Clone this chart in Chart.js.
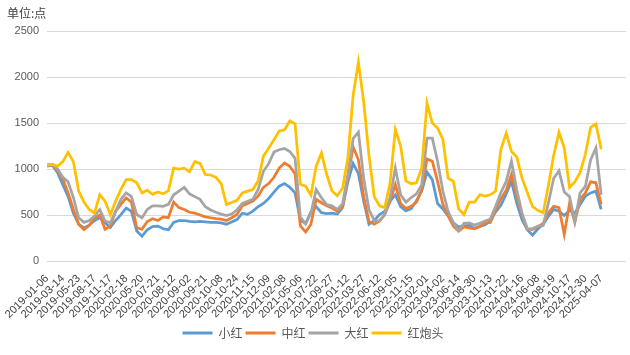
<!DOCTYPE html>
<html><head><meta charset="utf-8">
<script src="https://cdn.jsdelivr.net/npm/chart.js@4/dist/chart.umd.min.js"></script>
<style>html,body{margin:0;padding:0;background:#fff}#wrap{width:630px;height:355px;position:relative}</style>
</head><body><div id="wrap"><canvas id="c" width="630" height="355"></canvas></div>
<script>
const unitTitle = '单位:点';
const seriesNames = ['小红', '中红', '大红', '红炮头'];
const tickLabels = ['2019-01-06','2019-03-14','2019-05-23','2019-08-17','2019-11-17','2020-02-18','2020-05-20','2020-07-21','2020-08-12','2020-09-02','2020-09-21','2020-10-08','2020-10-24','2020-11-15','2020-12-09','2021-02-08','2021-05-06','2021-07-22','2021-09-27','2022-01-12','2022-03-27','2022-06-12','2022-09-05','2022-11-15','2023-02-01','2023-04-02','2023-06-14','2023-08-30','2023-11-13','2024-01-22','2024-04-16','2024-06-08','2024-08-19','2024-10-17','2024-12-30','2025-04-07'];
const pointsPerTick = 3;
const axisEnd = 109.7;
const xiaohong = [1030,1040,960,830,700,520,400,360,390,440,470,415,365,440,505,575,540,325,270,340,375,380,350,340,420,440,440,430,425,430,425,420,420,415,400,425,450,520,507,543,590,626,680,748,813,842,802,740,443,407,536,590,525,514,520,510,580,860,1060,950,650,400,440,505,540,650,720,590,545,570,655,760,965,885,625,565,490,415,370,380,390,355,375,395,435,535,605,730,865,630,450,340,280,350,395,485,560,540,495,550,520,615,705,740,760,560];
const zhonghong = [1045,1050,980,890,740,560,400,340,385,470,500,345,380,540,615,685,640,360,345,430,460,440,480,470,640,580,560,530,520,500,480,470,460,455,440,470,505,600,626,650,705,800,842,910,1011,1065,1029,947,380,316,399,670,633,600,575,540,590,910,1240,1100,700,430,400,435,505,650,830,625,570,595,640,775,1110,1085,865,615,490,380,325,370,360,350,375,415,420,560,675,770,940,705,500,345,345,370,410,525,595,580,290,625,420,670,740,860,850,615];
const dahong = [1040,1050,1000,910,860,690,470,420,440,490,560,435,415,540,670,740,700,505,470,560,600,600,595,615,720,760,800,730,700,670,590,555,530,510,495,510,555,626,650,670,777,975,1058,1184,1209,1223,1190,1117,478,404,518,777,687,612,600,560,620,940,1330,1400,900,560,440,435,505,690,1010,720,640,690,730,830,1335,1335,1085,760,540,415,330,410,415,390,410,435,455,595,745,865,1085,775,520,350,350,380,385,630,900,980,750,700,430,740,810,1100,1230,720];
const hongpaotou = [1040,1050,1030,1080,1180,1080,760,640,560,520,720,650,505,650,780,885,885,850,740,770,725,750,730,765,1010,1000,1010,970,1080,1060,940,935,910,840,615,635,660,740,760,777,870,1137,1227,1317,1414,1425,1522,1490,835,813,716,1030,1173,940,760,710,790,1120,1800,2160,1730,1150,700,600,580,850,1430,1250,870,840,850,1010,1715,1500,1445,1325,900,865,565,505,640,640,720,705,720,760,1215,1390,1190,1130,900,745,590,550,525,820,1150,1400,1230,800,860,960,1160,1453,1490,1214];
const seriesColors = ['#5B9BD5', '#ED7D31', '#A5A5A5', '#FFC000'];
const seriesValues = [xiaohong, zhonghong, dahong, hongpaotou];

const datasets = seriesValues.map((vals, s) => ({
  label: seriesNames[s],
  data: vals.map((v, i) => ({x: i, y: v})),
  borderColor: seriesColors[s],
  backgroundColor: seriesColors[s],
  borderWidth: 2.75,
  pointRadius: 0,
  tension: 0,
  order: seriesValues.length - s
}));

const titlePlugin = {
  id: 'unitTitle',
  afterDraw(chart) {
    const ctx = chart.ctx;
    ctx.save();
    ctx.font = '12px "Noto Sans CJK SC"';
    ctx.fillStyle = '#404040';
    ctx.textBaseline = 'middle';
    ctx.textAlign = 'left';
    ctx.fillText(unitTitle, 7, 13);
    ctx.restore();
  }
};

new Chart(document.getElementById('c'), {
  type: 'line',
  data: { datasets },
  plugins: [titlePlugin],
  options: {
    responsive: false,
    devicePixelRatio: 1,
    animation: false,
    layout: { padding: { top: 31, right: 4, bottom: 6, left: 0 } },
    plugins: {
      tooltip: { enabled: false },
      title: { display: false },
      legend: {
        position: 'bottom',
        labels: {
          boxWidth: 30,
          boxHeight: 3,
          padding: 3,
          color: '#595959',
          font: { family: '"Noto Sans CJK SC"', size: 12 },
          sort: (a, b) => a.datasetIndex - b.datasetIndex,
          generateLabels(chart) {
            const items = Chart.defaults.plugins.legend.labels.generateLabels(chart);
            items.forEach(it => { it.lineWidth = 0; it.fillStyle = seriesColors[it.datasetIndex]; });
            return items;
          }
        }
      }
    },
    scales: {
      x: {
        type: 'linear',
        min: 0,
        max: axisEnd,
        grid: { display: false },
        border: { display: false },
        afterBuildTicks(s) { s.ticks = tickLabels.map((_, k) => ({ value: k * pointsPerTick })); },
        afterFit(s) { s.height = 63; },
        ticks: {
          autoSkip: false,
          maxRotation: 45,
          minRotation: 45,
          padding: 3,
          color: '#404040',
          font: { family: '"Liberation Sans"', size: 11 },
          callback(v) {
            const k = Math.round(v / pointsPerTick);
            return (k >= 0 && k < tickLabels.length) ? tickLabels[k] : '';
          }
        }
      },
      y: {
        min: 0,
        max: 2500,
        grid: { color: '#d9d9d9', lineWidth: 1, drawTicks: false },
        border: { display: false },
        afterFit(s) { s.width = 47; },
        ticks: {
          stepSize: 500,
          padding: 8,
          color: '#595959',
          font: { family: '"Liberation Sans"', size: 11 },
          callback: (v) => String(v)
        }
      }
    }
  }
});
</script>
</body></html>
